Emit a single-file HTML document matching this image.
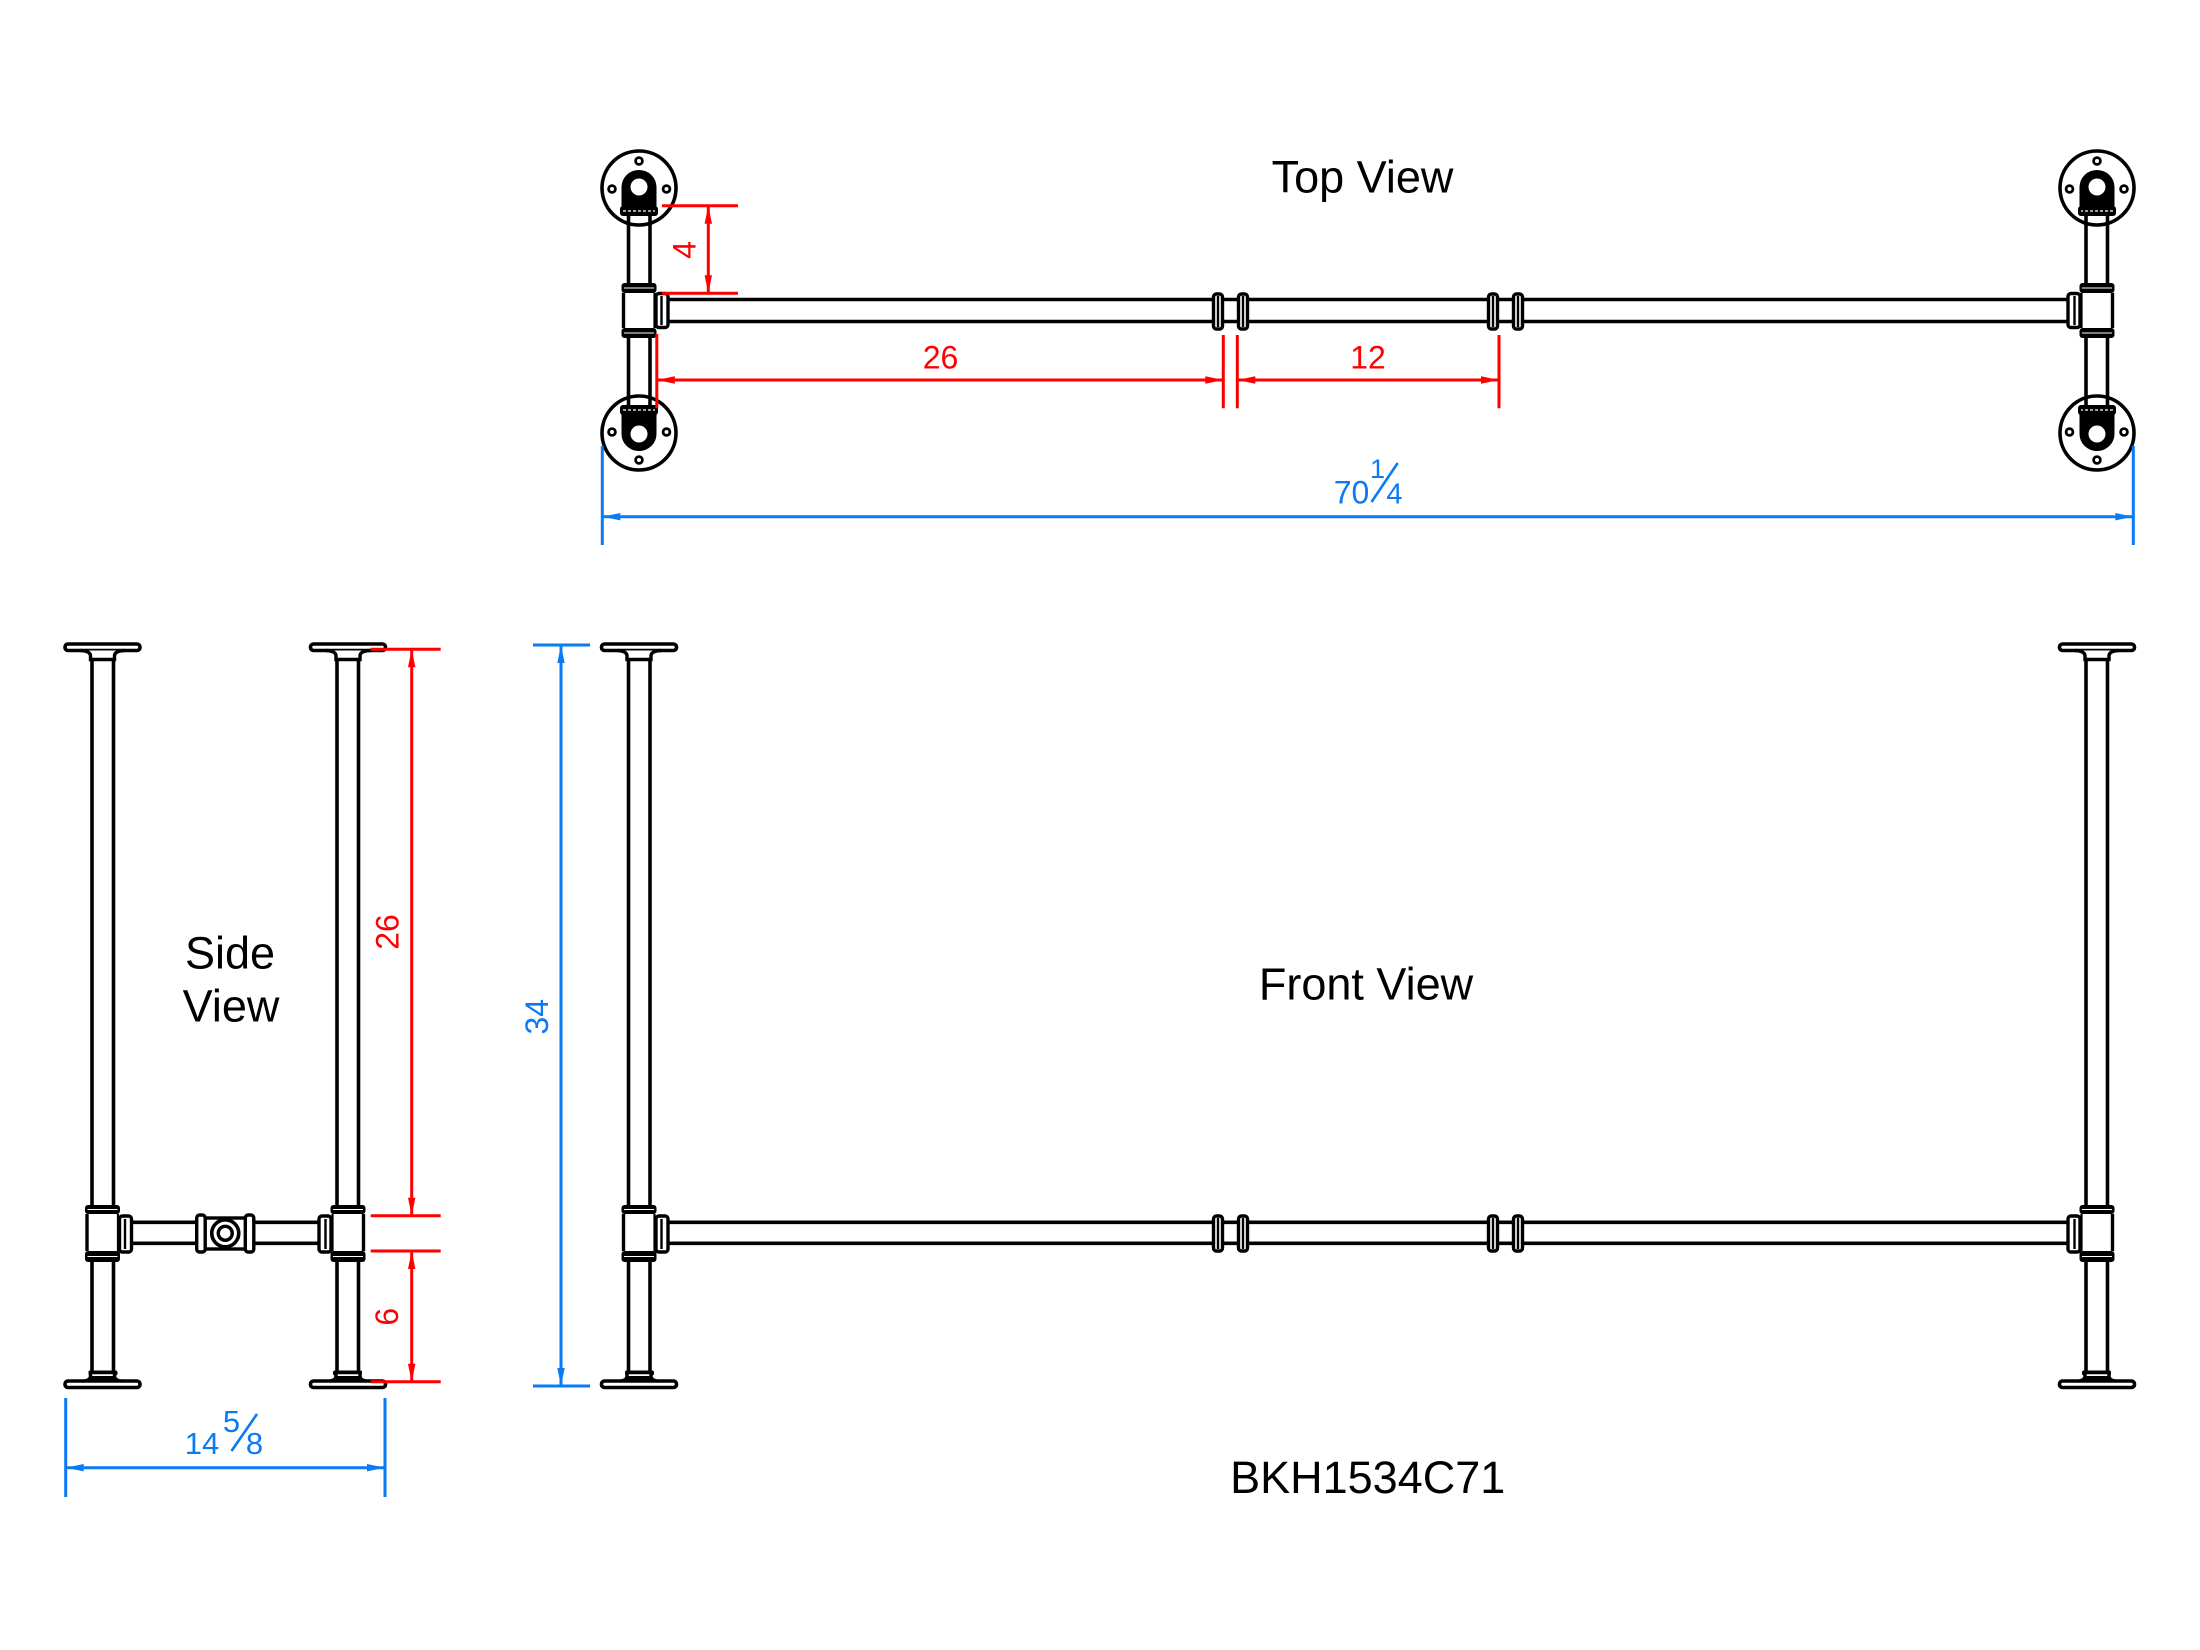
<!DOCTYPE html>
<html>
<head>
<meta charset="utf-8">
<style>
  html,body{margin:0;padding:0;background:#fff;}
  svg{display:block;}
  text{font-family:"Liberation Sans", Arial, sans-serif;}
</style>
</head>
<body>
<svg width="2200" height="1650" viewBox="0 0 2200 1650" xmlns="http://www.w3.org/2000/svg">
<defs>
  <!-- Top view: upper half of left leg -->
  <g id="tvHalf">
    <circle cx="639" cy="188" r="37" fill="#fff" stroke="#000" stroke-width="3.6"/>
    <circle cx="639" cy="161" r="3.4" fill="#fff" stroke="#000" stroke-width="2.8"/>
    <circle cx="612" cy="189" r="3.4" fill="#fff" stroke="#000" stroke-width="2.8"/>
    <circle cx="666.5" cy="189" r="3.4" fill="#fff" stroke="#000" stroke-width="2.8"/>
    <path d="M621.5,214 V187 A17.5,17 0 0 1 656.5,187 V214 Z" fill="#000"/>
    <circle cx="639" cy="187" r="8.5" fill="#fff"/>
    <rect x="620" y="206" width="38" height="10" rx="3" fill="#000"/>
    <line x1="623" y1="211" x2="655" y2="211" stroke="#fff" stroke-width="1.2" stroke-dasharray="3 2"/>
    <line x1="628.5" y1="215" x2="628.5" y2="283" stroke="#000" stroke-width="3.6"/>
    <line x1="650" y1="215" x2="650" y2="283" stroke="#000" stroke-width="3.6"/>
    <rect x="621.5" y="283" width="35" height="10" rx="3" fill="#000"/>
    <line x1="624" y1="288" x2="654" y2="288" stroke="#fff" stroke-width="1"/>
  </g>
  <g id="tvLeg">
    <use href="#tvHalf"/>
    <use href="#tvHalf" transform="translate(0,621) scale(1,-1)"/>
    <line x1="623.5" y1="293" x2="623.5" y2="328" stroke="#000" stroke-width="3.4"/>
    <line x1="654.5" y1="293" x2="654.5" y2="328" stroke="#000" stroke-width="2.2"/>
    <rect x="656" y="293.5" width="12" height="34" rx="3" fill="#fff" stroke="#000" stroke-width="3.4"/>
    <line x1="661.5" y1="296" x2="661.5" y2="325" stroke="#000" stroke-width="2.4"/>
  </g>
  <!-- coupling (top view at x 1213) -->
  <g id="cpl">
    <rect x="1213.5" y="294" width="9" height="35" rx="3" fill="#fff" stroke="#000" stroke-width="3.4"/>
    <line x1="1218" y1="296" x2="1218" y2="327" stroke="#000" stroke-width="2.4"/>
    <rect x="1238.5" y="294" width="9" height="35" rx="3" fill="#fff" stroke="#000" stroke-width="3.4"/>
    <line x1="1243" y1="296" x2="1243" y2="327" stroke="#000" stroke-width="2.4"/>
    <line x1="1222.5" y1="297" x2="1222.5" y2="326" stroke="#000" stroke-width="2.2"/>
    <line x1="1238.5" y1="297" x2="1238.5" y2="326" stroke="#000" stroke-width="2.2"/>
  </g>
  <!-- front view left leg -->
  <g id="fvLeg">
    <rect x="601.5" y="644" width="75" height="6.5" rx="3" fill="#fff" stroke="#000" stroke-width="3.6"/>
    <path d="M617,650.5 Q627,651 627,656 V659.5 H651 V656 Q651,651 661,650.5" fill="#fff" stroke="#000" stroke-width="3.4"/>
    <line x1="628.5" y1="659" x2="628.5" y2="1205" stroke="#000" stroke-width="3.6"/>
    <line x1="650" y1="659" x2="650" y2="1205" stroke="#000" stroke-width="3.6"/>
    <rect x="621.5" y="1205" width="35" height="9" rx="3" fill="#000"/>
    <line x1="624" y1="1209.5" x2="654" y2="1209.5" stroke="#fff" stroke-width="1"/>
    <line x1="623.5" y1="1214" x2="623.5" y2="1251" stroke="#000" stroke-width="3.4"/>
    <line x1="654.5" y1="1214" x2="654.5" y2="1251" stroke="#000" stroke-width="2.2"/>
    <rect x="656" y="1216" width="12" height="36" rx="3" fill="#fff" stroke="#000" stroke-width="3.4"/>
    <line x1="661.5" y1="1219" x2="661.5" y2="1249" stroke="#000" stroke-width="2.4"/>
    <rect x="621.5" y="1251" width="35" height="11" rx="3" fill="#000"/>
    <line x1="624" y1="1256.5" x2="654" y2="1256.5" stroke="#fff" stroke-width="1"/>
    <line x1="628.5" y1="1262" x2="628.5" y2="1373" stroke="#000" stroke-width="3.6"/>
    <line x1="650" y1="1262" x2="650" y2="1373" stroke="#000" stroke-width="3.6"/>
    <rect x="625" y="1370.5" width="29" height="5" rx="2" fill="#000"/>
    <path d="M617,1381.5 Q627,1381 627,1376 V1372.5 H651 V1376 Q651,1381 661,1381.5" fill="#fff" stroke="#000" stroke-width="3.4"/>
    <rect x="627" y="1376" width="24" height="5" fill="#000"/>
    <rect x="601.5" y="1381" width="75" height="6.5" rx="3" fill="#fff" stroke="#000" stroke-width="3.6"/>
  </g>
</defs>

<!-- ================= TOP VIEW ================= -->
<line x1="668" y1="299.5" x2="2068" y2="299.5" stroke="#000" stroke-width="3.6"/>
<line x1="668" y1="321.5" x2="2068" y2="321.5" stroke="#000" stroke-width="3.6"/>
<use href="#tvLeg"/>
<use href="#tvLeg" transform="translate(2736,0) scale(-1,1)"/>
<use href="#cpl"/>
<use href="#cpl" transform="translate(275,0)"/>

<text x="1362.5" y="192.7" font-size="45" text-anchor="middle" fill="#000">Top View</text>

<!-- red dims top view -->
<g stroke="#ff0000" stroke-width="3" fill="none">
  <line x1="662" y1="205.7" x2="738" y2="205.7"/>
  <line x1="662" y1="293.3" x2="738" y2="293.3"/>
  <line x1="708.3" y1="206" x2="708.3" y2="293"/>
  <line x1="656.8" y1="334" x2="656.8" y2="408.3"/>
  <line x1="1223.3" y1="335" x2="1223.3" y2="408.3"/>
  <line x1="1237.3" y1="335" x2="1237.3" y2="408.3"/>
  <line x1="1499" y1="335" x2="1499" y2="408.3"/>
  <line x1="657" y1="380" x2="1223" y2="380"/>
  <line x1="1237.5" y1="380" x2="1499" y2="380"/>
</g>
<g fill="#ff0000">
  <polygon points="708.3,205.7 704.6,223.7 712,223.7"/>
  <polygon points="708.3,293.3 704.6,275.3 712,275.3"/>
  <polygon points="656.8,380 674.8,376.3 674.8,383.7"/>
  <polygon points="1223.3,380 1205.3,376.3 1205.3,383.7"/>
  <polygon points="1237.3,380 1255.3,376.3 1255.3,383.7"/>
  <polygon points="1499,380 1481,376.3 1481,383.7"/>
</g>
<g fill="#ff0000" font-size="32" text-anchor="middle">
  <text x="940.5" y="368.3">26</text>
  <text x="1368" y="368.3">12</text>
  <text transform="translate(684,250) rotate(-90)" x="0" y="11.5">4</text>
</g>

<!-- blue 70 1/4 -->
<g stroke="#0a7af5" stroke-width="3" fill="none">
  <line x1="602.3" y1="446" x2="602.3" y2="545"/>
  <line x1="2133.3" y1="446" x2="2133.3" y2="545"/>
  <line x1="602.5" y1="516.7" x2="2133" y2="516.7"/>
  <line x1="1397.7" y1="463" x2="1371.5" y2="502" stroke-width="2.6"/>
</g>
<g fill="#0a7af5">
  <polygon points="602.3,516.7 620.3,513 620.3,520.4"/>
  <polygon points="2133.3,516.7 2115.3,513 2115.3,520.4"/>
  <text x="1351.5" y="503.3" font-size="32" text-anchor="middle">70</text>
  <text x="1377.5" y="478" font-size="27" text-anchor="middle">1</text>
  <text x="1394.5" y="503.3" font-size="29" text-anchor="middle">4</text>
</g>

<!-- ================= FRONT VIEW ================= -->
<line x1="668" y1="1222.3" x2="2068" y2="1222.3" stroke="#000" stroke-width="3.6"/>
<line x1="668" y1="1243.3" x2="2068" y2="1243.3" stroke="#000" stroke-width="3.6"/>
<use href="#fvLeg"/>
<use href="#fvLeg" transform="translate(2736,0) scale(-1,1)"/>
<use href="#cpl" transform="translate(0,922)"/>
<use href="#cpl" transform="translate(275,922)"/>

<text x="1366" y="999.5" font-size="45" text-anchor="middle" fill="#000">Front View</text>
<text x="1367.7" y="1493" font-size="45" text-anchor="middle" fill="#000">BKH1534C71</text>

<!-- blue 34 -->
<g stroke="#0a7af5" stroke-width="3" fill="none">
  <line x1="533" y1="645" x2="590" y2="645"/>
  <line x1="533" y1="1386" x2="590" y2="1386"/>
  <line x1="561" y1="645" x2="561" y2="1386"/>
</g>
<g fill="#0a7af5">
  <polygon points="561,645 557.3,663 564.7,663"/>
  <polygon points="561,1386 557.3,1368 564.7,1368"/>
  <text transform="translate(536.7,1016.7) rotate(-90)" x="0" y="11.5" font-size="32" text-anchor="middle">34</text>
</g>

<!-- ================= SIDE VIEW ================= -->
<line x1="131" y1="1222.3" x2="320" y2="1222.3" stroke="#000" stroke-width="3.6"/>
<line x1="131" y1="1243.3" x2="320" y2="1243.3" stroke="#000" stroke-width="3.6"/>
<use href="#fvLeg" transform="translate(-536.5,0)"/>
<use href="#fvLeg" transform="translate(987,0) scale(-1,1)"/>
<!-- cross fitting -->
<rect x="204.5" y="1218" width="41.5" height="31" fill="#fff" stroke="#000" stroke-width="3.4"/>
<rect x="196.7" y="1215" width="8.5" height="37" rx="3" fill="#fff" stroke="#000" stroke-width="3.4"/>
<rect x="245.3" y="1215" width="8.5" height="37" rx="3" fill="#fff" stroke="#000" stroke-width="3.4"/>
<circle cx="225.25" cy="1233.3" r="13.5" fill="#fff" stroke="#000" stroke-width="3.6"/>
<circle cx="225.25" cy="1233.3" r="7" fill="#fff" stroke="#000" stroke-width="3.4"/>

<text x="230" y="968.3" font-size="45" text-anchor="middle" fill="#000">Side</text>
<text x="231" y="1021.7" font-size="45" text-anchor="middle" fill="#000">View</text>

<!-- red side dims -->
<g stroke="#ff0000" stroke-width="3" fill="none">
  <line x1="370.7" y1="649.3" x2="440.7" y2="649.3"/>
  <line x1="370.7" y1="1215.7" x2="440.7" y2="1215.7"/>
  <line x1="370.7" y1="1251" x2="440.7" y2="1251"/>
  <line x1="370.7" y1="1381.7" x2="440.7" y2="1381.7"/>
  <line x1="411.7" y1="649.5" x2="411.7" y2="1215.5"/>
  <line x1="411.7" y1="1251.2" x2="411.7" y2="1381.5"/>
</g>
<g fill="#ff0000">
  <polygon points="411.7,649.3 408,667.3 415.4,667.3"/>
  <polygon points="411.7,1215.7 408,1197.7 415.4,1197.7"/>
  <polygon points="411.7,1251 408,1269 415.4,1269"/>
  <polygon points="411.7,1381.7 408,1363.7 415.4,1363.7"/>
  <text transform="translate(387,932) rotate(-90)" x="0" y="11.5" font-size="32" text-anchor="middle">26</text>
  <text transform="translate(386.7,1316.7) rotate(-90)" x="0" y="11.5" font-size="32" text-anchor="middle">6</text>
</g>

<!-- blue 14 5/8 -->
<g stroke="#0a7af5" stroke-width="3" fill="none">
  <line x1="65.7" y1="1398" x2="65.7" y2="1497"/>
  <line x1="385" y1="1398" x2="385" y2="1497"/>
  <line x1="66" y1="1467.7" x2="385" y2="1467.7"/>
  <line x1="257" y1="1414" x2="231.5" y2="1451" stroke-width="2.6"/>
</g>
<g fill="#0a7af5">
  <polygon points="65.7,1467.7 83.7,1464 83.7,1471.4"/>
  <polygon points="385,1467.7 367,1464 367,1471.4"/>
  <text x="202" y="1454" font-size="31" text-anchor="middle">14</text>
  <text x="231.5" y="1432" font-size="31" text-anchor="middle">5</text>
  <text x="254.5" y="1454" font-size="31" text-anchor="middle">8</text>
</g>
</svg>
</body>
</html>
